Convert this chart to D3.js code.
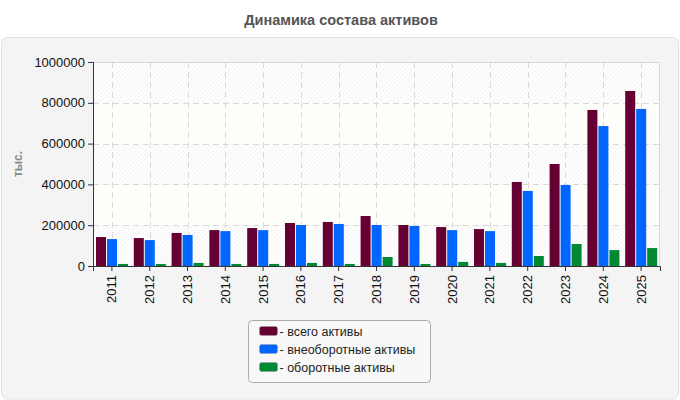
<!DOCTYPE html>
<html>
<head>
<meta charset="utf-8">
<script src="https://cdn.jsdelivr.net/npm/d3@7"></script>
<style>
  body { margin: 0; background: #fff; font-family: "Liberation Sans", Arial, sans-serif; }
</style>
</head>
<body>
<script>
var years = ["2011","2012","2013","2014","2015","2016","2017","2018","2019","2020","2021","2022","2023","2024","2025"];
var total =    [142000,137000,162000,176000,186000,211000,216000,245000,201000,191000,181000,412000,500000,765000,858000];
var nonCur =   [132000,127000,152000,171000,176000,201000,206000,201000,196000,176000,171000,368000,397000,686000,770000];
var current =  [10000,10000,15000,10000,10000,15000,10000,44000,10000,20000,15000,49000,108000,78000,88000];
var seriesNames = ["всего активы", "внеоборотные активы", "оборотные активы"];
var yTicks = [0, 200000, 400000, 600000, 800000, 1000000];

var colors = ["#660033", "#0066ff", "#008833"];
var series = [total, nonCur, current];

var W = 680, H = 400;
var margin = {top: 62, right: 20, bottom: 134, left: 93};
var w = W - margin.left - margin.right;
var h = H - margin.top - margin.bottom;

var svg = d3.select("body").append("svg")
    .attr("width", W)
    .attr("height", H);

var defs = svg.append("defs");
var pat = defs.append("pattern")
    .attr("id", "hatch")
    .attr("patternUnits", "userSpaceOnUse")
    .attr("width", 3).attr("height", 3)
    .attr("patternTransform", "rotate(45)");
pat.append("rect").attr("width", 3).attr("height", 3).attr("fill", "#ffffff");
pat.append("line").attr("x1", 0).attr("y1", 0).attr("x2", 0).attr("y2", 3)
    .attr("stroke", "#ebebeb").attr("stroke-width", 1.2);

// title
svg.append("text")
    .attr("x", W / 2 + 1).attr("y", 25)
    .attr("text-anchor", "middle")
    .style("font-size", "14.5px").style("font-weight", "bold").style("fill", "#555")
    .text("Динамика состава активов");

// panel
svg.append("rect")
    .attr("x", 1.5).attr("y", 37.5).attr("width", W - 3).attr("height", H - 38.5)
    .attr("rx", 6)
    .attr("fill", "#f4f4f4").attr("stroke", "#e2e2e2");

var g = svg.append("g")
    .attr("transform", "translate(" + margin.left + "," + margin.top + ")");

var x = d3.scaleBand().domain(years).range([0, w]).padding(0);
var y = d3.scaleLinear().domain([0, 1000000]).range([h, 0]);

// alternating bands
for (var i = 0; i < yTicks.length - 1; i++) {
  g.append("rect")
      .attr("x", 0).attr("width", w)
      .attr("y", y(yTicks[i + 1])).attr("height", y(yTicks[i]) - y(yTicks[i + 1]))
      .attr("fill", i % 2 === 0 ? "url(#hatch)" : "#fefefa");
}

// plot border top/right
g.append("path")
    .attr("d", "M0,0.5H" + (w - 0.5) + "V" + h)
    .attr("fill", "none").attr("stroke", "#d8d8d8");

// grid
g.selectAll("line.hgrid").data(yTicks.slice(1, -1)).enter()
  .append("line")
    .attr("x1", 0).attr("x2", w)
    .attr("y1", function(d) { return Math.round(y(d)) + 0.5; })
    .attr("y2", function(d) { return Math.round(y(d)) + 0.5; })
    .attr("stroke", "#d9d9d9").attr("stroke-dasharray", "6,4");

g.selectAll("line.vgrid").data(years).enter()
  .append("line")
    .attr("x1", function(d) { return Math.round(x(d) + x.bandwidth() / 2) + 0.5; })
    .attr("x2", function(d) { return Math.round(x(d) + x.bandwidth() / 2) + 0.5; })
    .attr("y1", 0).attr("y2", h)
    .attr("stroke", "#d9d9d9").attr("stroke-dasharray", "6,4");

// bars
var bw = 10, gap = 1;
series.forEach(function(s, si) {
  g.selectAll("rect.s" + si).data(s).enter()
    .append("rect")
      .attr("class", "s" + si)
      .attr("x", function(d, i) { return x(years[i]) + 3 + si * (bw + gap); })
      .attr("width", bw)
      .attr("y", function(d) { return y(d); })
      .attr("height", function(d) { return h - y(d); })
      .attr("fill", colors[si]);
});

// axes
var xAxis = g.append("g")
    .attr("transform", "translate(0," + h + ")")
    .call(d3.axisBottom(x).tickSizeOuter(0).tickSize(5));
xAxis.selectAll("text")
    .attr("transform", "rotate(-90)")
    .attr("x", -9).attr("y", 0).attr("dy", "0.35em")
    .style("text-anchor", "end");

var yAxis = g.append("g")
    .call(d3.axisLeft(y).tickValues(yTicks).tickFormat(d3.format("d")).tickSizeOuter(0).tickSize(5));

[xAxis, yAxis].forEach(function(a) {
  a.selectAll("text").style("font-size", "13px").style("fill", "#111")
      .style("font-family", "'Liberation Sans', Arial, sans-serif");
  a.select(".domain").attr("stroke", "#333");
  a.selectAll(".tick line").attr("stroke", "#333");
});

// y label
svg.append("text")
    .attr("transform", "translate(22," + (margin.top + h / 2) + ") rotate(-90)")
    .attr("text-anchor", "middle")
    .style("font-size", "12px").style("font-weight", "bold").style("fill", "#888")
    .text("тыс.");

// legend
var lg = svg.append("g").attr("transform", "translate(248.5,320.5)");
lg.append("rect")
    .attr("width", 182).attr("height", 62).attr("rx", 4)
    .attr("fill", "#f8f8f8").attr("stroke", "#aaa");
seriesNames.forEach(function(n, i) {
  lg.append("rect")
      .attr("x", 11).attr("y", 6 + i * 18).attr("width", 18).attr("height", 9).attr("rx", 2)
      .attr("fill", colors[i]).attr("stroke", "#999").attr("stroke-width", 0.5);
  lg.append("text")
      .attr("x", 31).attr("y", 15 + i * 18)
      .style("font-size", "12.5px").style("fill", "#222")
      .text("- " + n);
});
</script>
</body>
</html>
